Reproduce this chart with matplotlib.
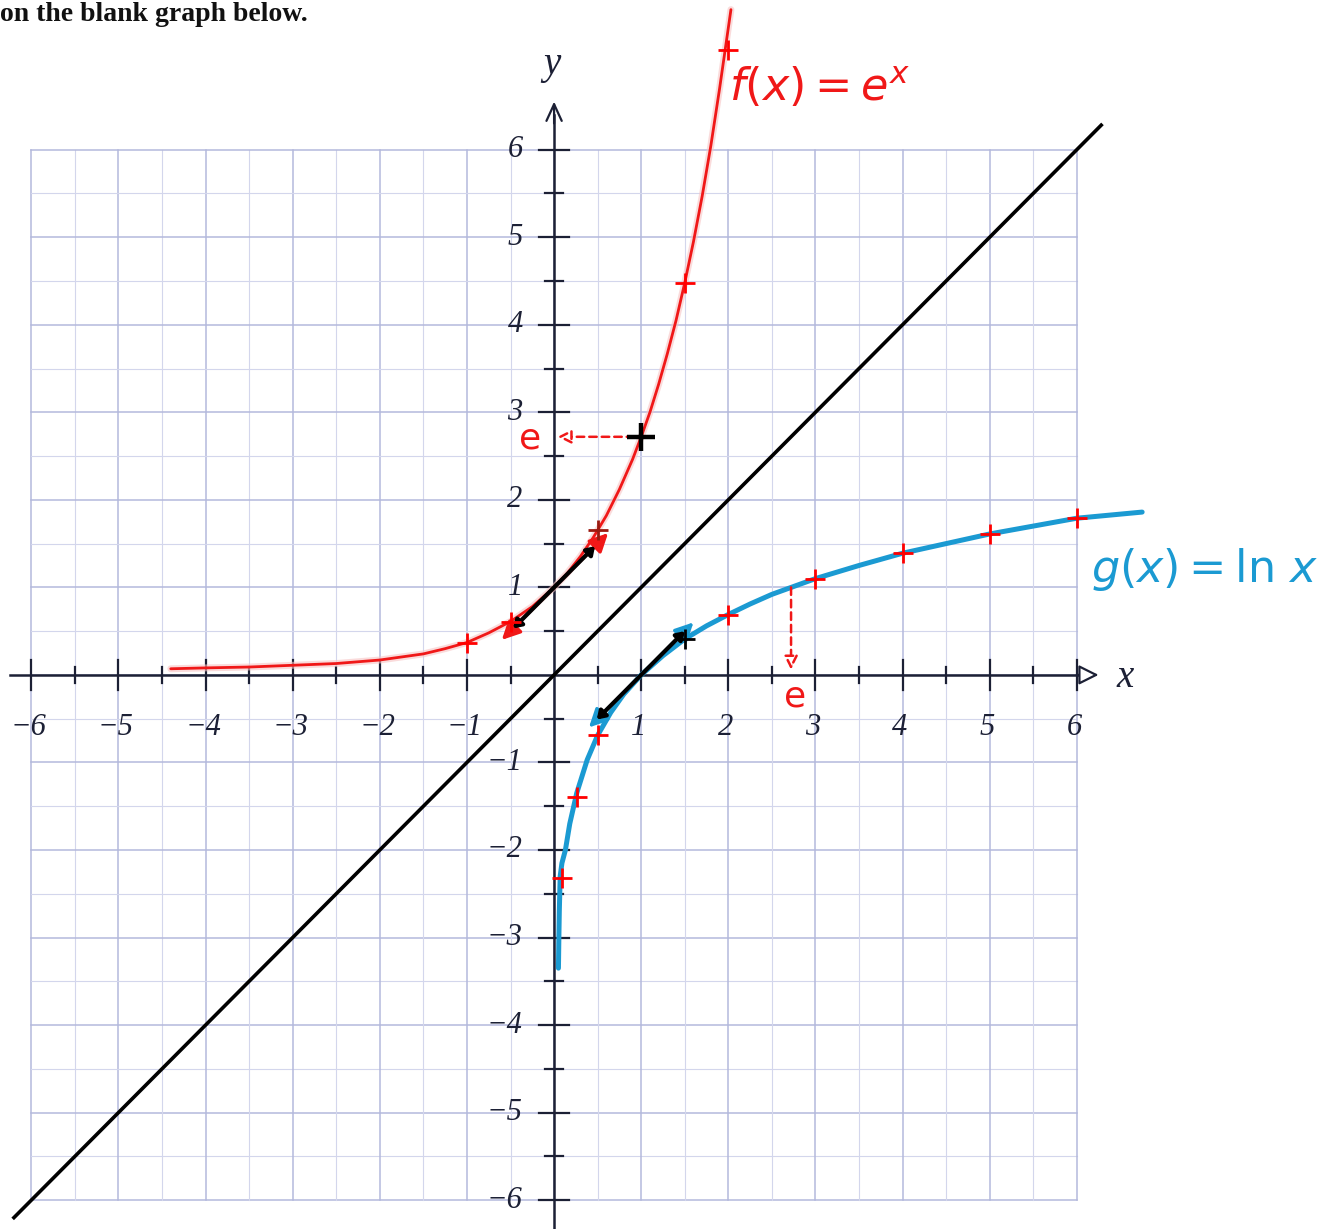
import numpy as np
import matplotlib.pyplot as plt

# hand-drawn curves, values
red_x = [-4.4, -4.0, -3.5, -3.0, -2.5, -2.0, -1.5, -1.25, -1.0, -0.75, -0.5, -0.25, 0.0,
         0.15, 0.3, 0.45, 0.6, 0.75, 0.9, 1.0, 1.1, 1.2, 1.3, 1.4, 1.5, 1.6, 1.7,
         1.8, 1.9, 2.03]
red_y = [0.07, 0.08, 0.09, 0.11, 0.13, 0.17, 0.24, 0.3, 0.37, 0.48, 0.61, 0.78, 1.0,
         1.16, 1.35, 1.57, 1.82, 2.12, 2.46, 2.72, 3.0, 3.32, 3.67, 4.05, 4.48, 4.95, 5.47,
         6.05, 6.7, 7.6]

blue_x = [0.05, 0.055, 0.06, 0.07, 0.09, 0.13, 0.18, 0.26, 0.38, 0.5, 0.65, 0.8,
          1.0, 1.25, 1.5, 1.75, 2.0, 2.25, 2.5, 2.75, 3.0, 3.5, 4.0, 4.5, 5.0, 5.5,
          6.0, 6.75]
blue_y = [-3.35, -3.0, -2.7, -2.3, -2.15, -2.0, -1.7, -1.35, -0.97, -0.69, -0.43, -0.22,
          0.0, 0.22, 0.41, 0.56, 0.69, 0.81, 0.92, 1.01, 1.1, 1.25, 1.39, 1.5, 1.61, 1.7,
          1.79, 1.86]

diag_x = [-6.2, 6.28]
diag_y = [-6.2, 6.28]

# plotted points (+ marks)
red_pts_x = [-1.0, -0.5, 0.5, 1.5, 2.0]
red_pts_y = [0.37, 0.61, 1.65, 4.48, 7.14]
red_pts_c = ['red', 'red', '#9a1a10', 'red', 'red']
blue_pts_x = [0.09, 0.26, 0.5, 1.5, 2.0, 3.0, 4.0, 5.0, 6.0]
blue_pts_y = [-2.32, -1.39, -0.69, 0.41, 0.69, 1.1, 1.39, 1.61, 1.79]
blue_pts_c = ['red', 'red', 'red', 'black', 'red', 'red', 'red', 'red', 'red']
e_point = (1.0, 2.72)

# tangent lines (slope 1) at (0,1) and (1,0)
tan_f_outer = [(-0.6, 0.4), (0.62, 1.62)]
tan_f_inner = [(-0.47, 0.53), (0.47, 1.47)]
tan_g_outer = [(0.4, -0.6), (1.6, 0.6)]
tan_g_inner = [(0.49, -0.51), (1.5, 0.5)]

ticks = [-6, -5, -4, -3, -2, -1, 1, 2, 3, 4, 5, 6]
tick_labels = ['\u22126', '\u22125', '\u22124', '\u22123', '\u22122', '\u22121',
               '1', '2', '3', '4', '5', '6']

fig = plt.figure(figsize=(13.19, 12.29), dpi=100)
ax = fig.add_axes([0, 0, 1, 1])
ax.set_xlim(-6.36, 8.78)
ax.set_ylim(-6.33, 7.71)
ax.axis('off')

# grid paper
halves = np.arange(-6, 6.01, 0.5)
for g in halves:
    major = float(g).is_integer()
    c = '#b4b9dc' if major else '#d3d6ec'
    lw = 1.1 if major else 0.8
    ax.plot([g, g], [-6, 6], color=c, lw=lw, zorder=1)
    ax.plot([-6, 6], [g, g], color=c, lw=lw, zorder=1)

# axes
axc = '#1c2035'
ax.plot([-6.25, 6.1], [0, 0], color=axc, lw=1.8, zorder=2)
ax.plot([0, 0], [-6.4, 6.4], color=axc, lw=1.8, zorder=2)
ax.annotate('', xy=(6.25, 0), xytext=(6.0, 0),
            arrowprops=dict(arrowstyle='-|>,head_length=1.2,head_width=0.6',
                            fc='white', ec=axc, lw=1.6, shrinkA=0, shrinkB=0))
ax.annotate('', xy=(0, 6.55), xytext=(0, 6.3),
            arrowprops=dict(arrowstyle='->,head_length=1.2,head_width=0.55',
                            ec=axc, lw=1.6, shrinkA=0, shrinkB=0))
for g in halves:
    if g == 0:
        continue
    major = float(g).is_integer()
    hx = 0.17 if major else 0.09
    hy = 0.17 if major else 0.1
    ax.plot([g, g], [-hx, hx], color=axc, lw=1.6, zorder=2)
    ax.plot([-hy, hy], [g, g], color=axc, lw=1.6, zorder=2)

tf = dict(family='Liberation Serif', style='italic', fontsize=22, color='#1c2035')
for t, lab in zip(ticks, tick_labels):
    ax.text(t - 0.03, -0.6, lab, ha='center', va='center', **tf)
    ax.text(-0.36, t, lab, ha='right', va='center', **tf)
ax.text(-0.03, 6.97, 'y', ha='center', va='center', family='Liberation Serif',
        style='italic', fontsize=28, color='#1c2035')
ax.text(6.56, -0.03, 'x', ha='center', va='center', family='Liberation Serif',
        style='italic', fontsize=28, color='#1c2035')

# y = x
ax.plot(diag_x, diag_y, color='black', lw=2.6, zorder=3)

# curves
ax.plot(red_x, red_y, color='#f7c4c4', lw=5, alpha=0.6, zorder=3,
        solid_capstyle='round')
ax.plot(red_x, red_y, color='#f01818', lw=2.0, zorder=4, solid_capstyle='round')
ax.plot(blue_x, blue_y, color='#1b9ad2', lw=3.6, zorder=4, solid_capstyle='round')

# tangent arrows
arr_big = '<|-|>,head_length=1.1,head_width=0.55'
arr_small = '<|-|>,head_length=0.45,head_width=0.3'
ax.annotate('', xy=tan_f_outer[0], xytext=tan_f_outer[1],
            arrowprops=dict(arrowstyle=arr_big, color='#f01818', lw=2.4,
                            shrinkA=0, shrinkB=0), zorder=5)
ax.annotate('', xy=tan_f_inner[0], xytext=tan_f_inner[1],
            arrowprops=dict(arrowstyle=arr_small, color='black', lw=3.0,
                            shrinkA=0, shrinkB=0), zorder=6)
ax.annotate('', xy=tan_g_outer[0], xytext=tan_g_outer[1],
            arrowprops=dict(arrowstyle=arr_big, color='#1b9ad2', lw=2.4,
                            shrinkA=0, shrinkB=0), zorder=5)
ax.annotate('', xy=tan_g_inner[0], xytext=tan_g_inner[1],
            arrowprops=dict(arrowstyle=arr_small, color='black', lw=3.0,
                            shrinkA=0, shrinkB=0), zorder=6)

# + marks
for px, py, c in zip(red_pts_x, red_pts_y, red_pts_c):
    ax.plot(px, py, marker='+', ms=14, mew=2, color=c, zorder=7)
for px, py, c in zip(blue_pts_x, blue_pts_y, blue_pts_c):
    ax.plot(px, py, marker='+', ms=14, mew=2, color=c, zorder=7)
ax.plot(*e_point, marker='+', ms=20, mew=3.2, color='black', zorder=7)

# dashed arrows marking e
dash_arrow = dict(arrowstyle='-|>,head_length=0.8,head_width=0.4', fc='white',
                  ec='#f01818', lw=1.8, ls=(0, (3, 2)), shrinkA=0, shrinkB=0)
ax.annotate('', xy=(0.04, e_point[1]), xytext=(e_point[0] - 0.08, e_point[1]),
            arrowprops=dash_arrow, zorder=6)
ax.text(-0.27, 2.7, 'e', ha='center', va='center', fontsize=26, color='#f01818')
ax.annotate('', xy=(e_point[1], 0.06), xytext=(e_point[1], 1.0),
            arrowprops=dash_arrow, zorder=6)
ax.text(2.77, -0.25, 'e', ha='center', va='center', fontsize=26, color='#f01818')

# function labels
ax.text(3.05, 6.72, r'$f(x) = e^{x}$', ha='center', va='center', fontsize=32,
        color='#f01818')
ax.text(7.47, 1.2, r'$g(x) = \ln\, x$', ha='center', va='center', fontsize=32,
        color='#1b9ad2')

fig.text(0.0, 0.998, 'on the blank graph below.', ha='left', va='top',
         family='Liberation Serif', fontweight='bold', fontsize=20, color='#111111')

fig.savefig('out.png', dpi=100)
